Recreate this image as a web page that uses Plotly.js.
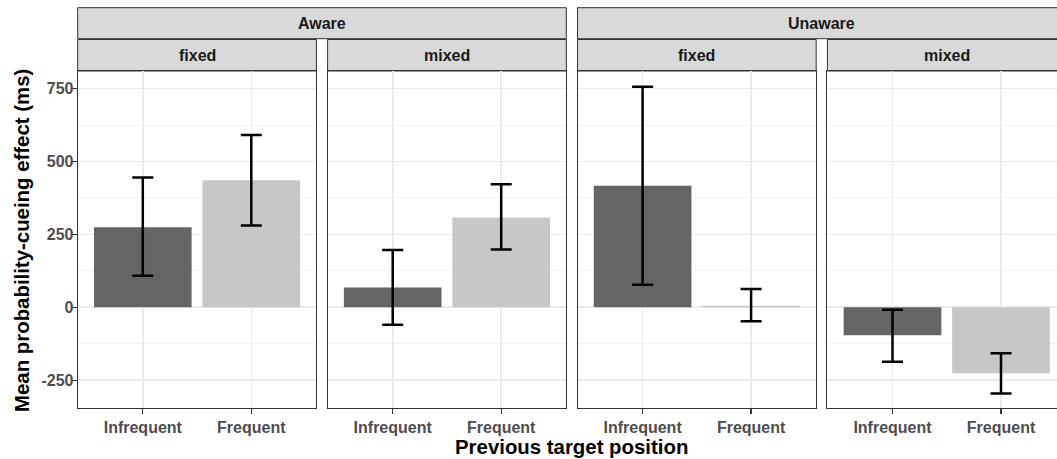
<!DOCTYPE html>
<html><head><meta charset="utf-8">
<script src="https://cdn.plot.ly/plotly-3.0.1.min.js"></script>
<style>html,body{margin:0;padding:0;overflow:hidden;background:#fff}</style>
</head><body><div id="chart"></div>
<script>
// ---- data ----
const awareness = ['Aware', 'Aware', 'Unaware', 'Unaware'];
const condition = ['fixed', 'mixed', 'fixed', 'mixed'];
const positions = ['Infrequent', 'Frequent'];
const meanInfrequent  = [275, 68, 417, -96];
const upperInfrequent = [445, 197, 757, -8];
const lowerInfrequent = [108, -60, 77, -187];
const meanFrequent    = [436, 308, 5, -226];
const upperFrequent   = [591, 422, 63, -158];
const lowerFrequent   = [281, 198, -48, -296];
const yTickVals = [-250, 0, 250, 500, 750];
const yTickText = ['-250', '0', '250', '500', '750'];

// ---- layout geometry (px) ----
const W = 1075, H = 459;
const panelLeft0 = 77.7, panelW = 238.7, panelStep = 249.9;
const panelTop = 71, panelBottom = 408;
const outerTop = 7.7, outerBottom = 38.7, innerTop = 39.5;
const fillColors = ['#656565', '#c7c7c7'];
const FONT = 'Liberation Sans, Arial, Helvetica, sans-serif';

const px = v => v / W;
const py = v => 1 - v / H;

const traces = [];
const layout = {
  width: W, height: H, autosize: false,
  margin: {l: 0, r: 0, t: 0, b: 0, pad: 0},
  paper_bgcolor: '#ffffff', plot_bgcolor: '#ffffff',
  showlegend: false, bargap: 0.1,
  font: {family: FONT},
  shapes: [], annotations: []
};

for (let i = 0; i < 4; i++) {
  const xa = i === 0 ? 'x' : 'x' + (i + 1);
  const ya = i === 0 ? 'y' : 'y' + (i + 1);
  const L = panelLeft0 + i * panelStep;
  const means = [meanInfrequent[i], meanFrequent[i]];
  const ups = [upperInfrequent[i] - meanInfrequent[i], upperFrequent[i] - meanFrequent[i]];
  const downs = [meanInfrequent[i] - lowerInfrequent[i], meanFrequent[i] - lowerFrequent[i]];
  traces.push({
    type: 'bar', x: positions, y: means, xaxis: xa, yaxis: ya,
    marker: {color: fillColors, line: {width: 0}},
    error_y: {type: 'data', symmetric: false, array: ups, arrayminus: downs,
              color: '#000000', thickness: 2.5, width: 10.5},
    hoverinfo: 'x+y'
  });
  const xName = i === 0 ? 'xaxis' : 'xaxis' + (i + 1);
  const yName = i === 0 ? 'yaxis' : 'yaxis' + (i + 1);
  layout[xName] = {
    domain: [px(L), px(L + panelW)], anchor: ya,
    type: 'category', categoryorder: 'array', categoryarray: positions,
    range: [-0.6, 1.6], fixedrange: true,
    showgrid: true, gridcolor: '#ebebeb', gridwidth: 1.6,
    showline: true, mirror: true, linecolor: '#333333', linewidth: 1,
    ticks: 'outside', ticklen: 5, tickwidth: 1.2, tickcolor: '#333333',
    tickfont: {family: FONT, size: 16, color: '#4d4d4d', weight: 'bold'},
    zeroline: false
  };
  layout[yName] = {
    domain: [py(panelBottom), py(panelTop)], anchor: xa,
    range: [-345.5, 810.7], fixedrange: true,
    tickmode: 'array', tickvals: yTickVals, ticktext: yTickText,
    showticklabels: i === 0, ticks: i === 0 ? 'outside' : '',
    ticklen: 5, tickwidth: 1.2, tickcolor: '#333333', ticklabelstandoff: -5,
    tickfont: {family: FONT, size: 16, color: '#4d4d4d', weight: 'bold'},
    showgrid: true, gridcolor: '#ebebeb', gridwidth: 1.6,
    minor: {tickmode: 'array', tickvals: [-375, -125, 125, 375, 625], showgrid: true,
            gridcolor: '#f0f0f0', gridwidth: 0.8, ticks: ''},
    showline: true, mirror: true, linecolor: '#333333', linewidth: 1,
    zeroline: false
  };
  // inner strip
  layout.shapes.push({type: 'rect', xref: 'paper', yref: 'paper',
    x0: px(L), x1: px(L + panelW), y0: py(panelTop), y1: py(innerTop),
    fillcolor: '#d9d9d9', line: {color: '#333333', width: 1}, layer: 'below'});
  layout.annotations.push({xref: 'paper', yref: 'paper', x: px(L + panelW / 2), y: py((innerTop + panelTop) / 2),
    text: condition[i], showarrow: false, xanchor: 'center', yanchor: 'middle',
    font: {family: FONT, size: 16, color: '#1a1a1a', weight: 'bold'}});
}
// outer strips
for (let g = 0; g < 2; g++) {
  const L = panelLeft0 + 2 * g * panelStep;
  const R = L + panelStep + panelW;
  layout.shapes.push({type: 'rect', xref: 'paper', yref: 'paper',
    x0: px(L), x1: px(R), y0: py(outerBottom), y1: py(outerTop),
    fillcolor: '#d9d9d9', line: {color: '#333333', width: 1}, layer: 'below'});
  layout.annotations.push({xref: 'paper', yref: 'paper', x: px((L + R) / 2), y: py((outerTop + outerBottom) / 2),
    text: awareness[2 * g], showarrow: false, xanchor: 'center', yanchor: 'middle',
    font: {family: FONT, size: 16, color: '#1a1a1a', weight: 'bold'}});
}
// axis titles
layout.annotations.push({xref: 'paper', yref: 'paper', x: px((panelLeft0 + panelLeft0 + 3 * panelStep + panelW) / 2), y: py(446.5),
  text: 'Previous target position', showarrow: false, xanchor: 'center', yanchor: 'middle',
  font: {family: FONT, size: 20.4, color: '#000000', weight: 'bold'}});
layout.annotations.push({xref: 'paper', yref: 'paper', x: px(21.5), y: py(240.5),
  text: 'Mean probability-cueing effect (ms)', showarrow: false, textangle: -90,
  xanchor: 'center', yanchor: 'middle',
  font: {family: FONT, size: 20.4, color: '#000000', weight: 'bold'}});

Plotly.newPlot('chart', traces, layout, {displayModeBar: false, staticPlot: true});
</script></body></html>
